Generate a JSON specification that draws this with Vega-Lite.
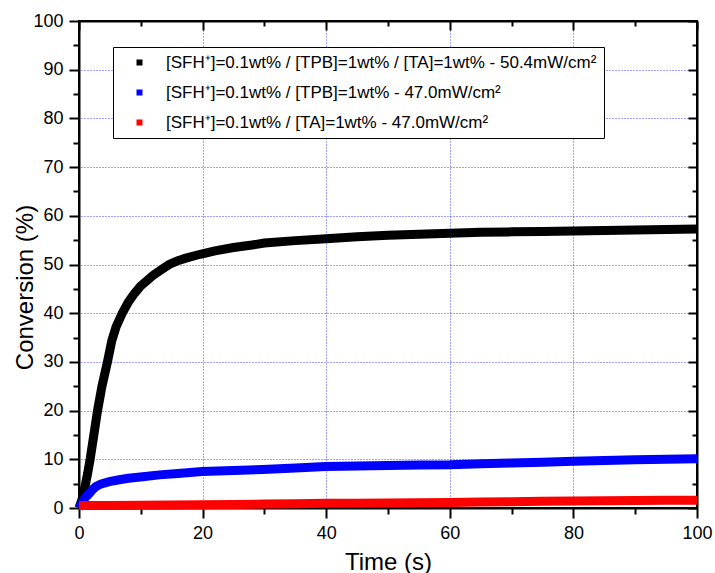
{
  "$schema": "https://vega.github.io/schema/vega-lite/v6.json",
  "autosize": "none",
  "width": 618,
  "height": 487,
  "padding": {"left": 79, "top": 21, "right": 18, "bottom": 65},
  "background": "white",
  "config": {"view": {"stroke": "black", "strokeWidth": 2}},
  "data": {"values": [
      {"label": "[SFH⁺]=0.1wt% / [TPB]=1wt% / [TA]=1wt% - 50.4mW/cm²", "t": 0, "v": 0}, {"label": "[SFH⁺]=0.1wt% / [TPB]=1wt% / [TA]=1wt% - 50.4mW/cm²", "t": 0.5, "v": 1.8}, {"label": "[SFH⁺]=0.1wt% / [TPB]=1wt% / [TA]=1wt% - 50.4mW/cm²", "t": 1.0, "v": 4.6}, {"label": "[SFH⁺]=0.1wt% / [TPB]=1wt% / [TA]=1wt% - 50.4mW/cm²", "t": 1.4, "v": 7.1}, {"label": "[SFH⁺]=0.1wt% / [TPB]=1wt% / [TA]=1wt% - 50.4mW/cm²", "t": 1.8, "v": 10}, {"label": "[SFH⁺]=0.1wt% / [TPB]=1wt% / [TA]=1wt% - 50.4mW/cm²", "t": 2.4, "v": 15}, {"label": "[SFH⁺]=0.1wt% / [TPB]=1wt% / [TA]=1wt% - 50.4mW/cm²", "t": 3.0, "v": 20}, {"label": "[SFH⁺]=0.1wt% / [TPB]=1wt% / [TA]=1wt% - 50.4mW/cm²", "t": 3.7, "v": 24.9}, {"label": "[SFH⁺]=0.1wt% / [TPB]=1wt% / [TA]=1wt% - 50.4mW/cm²", "t": 4.6, "v": 30}, {"label": "[SFH⁺]=0.1wt% / [TPB]=1wt% / [TA]=1wt% - 50.4mW/cm²", "t": 5.3, "v": 34.3}, {"label": "[SFH⁺]=0.1wt% / [TPB]=1wt% / [TA]=1wt% - 50.4mW/cm²", "t": 6.0, "v": 37.2}, {"label": "[SFH⁺]=0.1wt% / [TPB]=1wt% / [TA]=1wt% - 50.4mW/cm²", "t": 7.0, "v": 40}, {"label": "[SFH⁺]=0.1wt% / [TPB]=1wt% / [TA]=1wt% - 50.4mW/cm²", "t": 8.0, "v": 42.3}, {"label": "[SFH⁺]=0.1wt% / [TPB]=1wt% / [TA]=1wt% - 50.4mW/cm²", "t": 9.0, "v": 44.1}, {"label": "[SFH⁺]=0.1wt% / [TPB]=1wt% / [TA]=1wt% - 50.4mW/cm²", "t": 10.0, "v": 45.6}, {"label": "[SFH⁺]=0.1wt% / [TPB]=1wt% / [TA]=1wt% - 50.4mW/cm²", "t": 11.1, "v": 46.8}, {"label": "[SFH⁺]=0.1wt% / [TPB]=1wt% / [TA]=1wt% - 50.4mW/cm²", "t": 12.0, "v": 47.8}, {"label": "[SFH⁺]=0.1wt% / [TPB]=1wt% / [TA]=1wt% - 50.4mW/cm²", "t": 13.3, "v": 48.9}, {"label": "[SFH⁺]=0.1wt% / [TPB]=1wt% / [TA]=1wt% - 50.4mW/cm²", "t": 14.6, "v": 50}, {"label": "[SFH⁺]=0.1wt% / [TPB]=1wt% / [TA]=1wt% - 50.4mW/cm²", "t": 16.0, "v": 50.8}, {"label": "[SFH⁺]=0.1wt% / [TPB]=1wt% / [TA]=1wt% - 50.4mW/cm²", "t": 17.3, "v": 51.3}, {"label": "[SFH⁺]=0.1wt% / [TPB]=1wt% / [TA]=1wt% - 50.4mW/cm²", "t": 19.0, "v": 51.9}, {"label": "[SFH⁺]=0.1wt% / [TPB]=1wt% / [TA]=1wt% - 50.4mW/cm²", "t": 20.3, "v": 52.3}, {"label": "[SFH⁺]=0.1wt% / [TPB]=1wt% / [TA]=1wt% - 50.4mW/cm²", "t": 22, "v": 52.8}, {"label": "[SFH⁺]=0.1wt% / [TPB]=1wt% / [TA]=1wt% - 50.4mW/cm²", "t": 25, "v": 53.5}, {"label": "[SFH⁺]=0.1wt% / [TPB]=1wt% / [TA]=1wt% - 50.4mW/cm²", "t": 28, "v": 54.0}, {"label": "[SFH⁺]=0.1wt% / [TPB]=1wt% / [TA]=1wt% - 50.4mW/cm²", "t": 30, "v": 54.4}, {"label": "[SFH⁺]=0.1wt% / [TPB]=1wt% / [TA]=1wt% - 50.4mW/cm²", "t": 35, "v": 54.9}, {"label": "[SFH⁺]=0.1wt% / [TPB]=1wt% / [TA]=1wt% - 50.4mW/cm²", "t": 40, "v": 55.3}, {"label": "[SFH⁺]=0.1wt% / [TPB]=1wt% / [TA]=1wt% - 50.4mW/cm²", "t": 45, "v": 55.7}, {"label": "[SFH⁺]=0.1wt% / [TPB]=1wt% / [TA]=1wt% - 50.4mW/cm²", "t": 50, "v": 56.0}, {"label": "[SFH⁺]=0.1wt% / [TPB]=1wt% / [TA]=1wt% - 50.4mW/cm²", "t": 55, "v": 56.2}, {"label": "[SFH⁺]=0.1wt% / [TPB]=1wt% / [TA]=1wt% - 50.4mW/cm²", "t": 60, "v": 56.4}, {"label": "[SFH⁺]=0.1wt% / [TPB]=1wt% / [TA]=1wt% - 50.4mW/cm²", "t": 65, "v": 56.6}, {"label": "[SFH⁺]=0.1wt% / [TPB]=1wt% / [TA]=1wt% - 50.4mW/cm²", "t": 70, "v": 56.7}, {"label": "[SFH⁺]=0.1wt% / [TPB]=1wt% / [TA]=1wt% - 50.4mW/cm²", "t": 75, "v": 56.8}, {"label": "[SFH⁺]=0.1wt% / [TPB]=1wt% / [TA]=1wt% - 50.4mW/cm²", "t": 80, "v": 56.9}, {"label": "[SFH⁺]=0.1wt% / [TPB]=1wt% / [TA]=1wt% - 50.4mW/cm²", "t": 85, "v": 57.0}, {"label": "[SFH⁺]=0.1wt% / [TPB]=1wt% / [TA]=1wt% - 50.4mW/cm²", "t": 90, "v": 57.1}, {"label": "[SFH⁺]=0.1wt% / [TPB]=1wt% / [TA]=1wt% - 50.4mW/cm²", "t": 95, "v": 57.2}, {"label": "[SFH⁺]=0.1wt% / [TPB]=1wt% / [TA]=1wt% - 50.4mW/cm²", "t": 100, "v": 57.3},
      {"label": "[SFH⁺]=0.1wt% / [TPB]=1wt% - 47.0mW/cm²", "t": 0, "v": 0}, {"label": "[SFH⁺]=0.1wt% / [TPB]=1wt% - 47.0mW/cm²", "t": 0.3, "v": 0.6}, {"label": "[SFH⁺]=0.1wt% / [TPB]=1wt% - 47.0mW/cm²", "t": 0.6, "v": 1.3}, {"label": "[SFH⁺]=0.1wt% / [TPB]=1wt% - 47.0mW/cm²", "t": 1.0, "v": 2.1}, {"label": "[SFH⁺]=0.1wt% / [TPB]=1wt% - 47.0mW/cm²", "t": 1.67, "v": 3.0}, {"label": "[SFH⁺]=0.1wt% / [TPB]=1wt% - 47.0mW/cm²", "t": 2.2, "v": 3.8}, {"label": "[SFH⁺]=0.1wt% / [TPB]=1wt% - 47.0mW/cm²", "t": 2.75, "v": 4.4}, {"label": "[SFH⁺]=0.1wt% / [TPB]=1wt% - 47.0mW/cm²", "t": 3.5, "v": 4.9}, {"label": "[SFH⁺]=0.1wt% / [TPB]=1wt% - 47.0mW/cm²", "t": 4.9, "v": 5.4}, {"label": "[SFH⁺]=0.1wt% / [TPB]=1wt% - 47.0mW/cm²", "t": 6.5, "v": 5.8}, {"label": "[SFH⁺]=0.1wt% / [TPB]=1wt% - 47.0mW/cm²", "t": 8, "v": 6.1}, {"label": "[SFH⁺]=0.1wt% / [TPB]=1wt% - 47.0mW/cm²", "t": 10.3, "v": 6.4}, {"label": "[SFH⁺]=0.1wt% / [TPB]=1wt% - 47.0mW/cm²", "t": 13, "v": 6.8}, {"label": "[SFH⁺]=0.1wt% / [TPB]=1wt% - 47.0mW/cm²", "t": 16, "v": 7.1}, {"label": "[SFH⁺]=0.1wt% / [TPB]=1wt% - 47.0mW/cm²", "t": 19.9, "v": 7.5}, {"label": "[SFH⁺]=0.1wt% / [TPB]=1wt% - 47.0mW/cm²", "t": 25, "v": 7.7}, {"label": "[SFH⁺]=0.1wt% / [TPB]=1wt% - 47.0mW/cm²", "t": 29.7, "v": 7.9}, {"label": "[SFH⁺]=0.1wt% / [TPB]=1wt% - 47.0mW/cm²", "t": 35, "v": 8.2}, {"label": "[SFH⁺]=0.1wt% / [TPB]=1wt% - 47.0mW/cm²", "t": 39.9, "v": 8.5}, {"label": "[SFH⁺]=0.1wt% / [TPB]=1wt% - 47.0mW/cm²", "t": 45, "v": 8.6}, {"label": "[SFH⁺]=0.1wt% / [TPB]=1wt% - 47.0mW/cm²", "t": 50, "v": 8.75}, {"label": "[SFH⁺]=0.1wt% / [TPB]=1wt% - 47.0mW/cm²", "t": 55, "v": 8.85}, {"label": "[SFH⁺]=0.1wt% / [TPB]=1wt% - 47.0mW/cm²", "t": 60, "v": 8.9}, {"label": "[SFH⁺]=0.1wt% / [TPB]=1wt% - 47.0mW/cm²", "t": 65, "v": 9.1}, {"label": "[SFH⁺]=0.1wt% / [TPB]=1wt% - 47.0mW/cm²", "t": 70, "v": 9.25}, {"label": "[SFH⁺]=0.1wt% / [TPB]=1wt% - 47.0mW/cm²", "t": 75, "v": 9.4}, {"label": "[SFH⁺]=0.1wt% / [TPB]=1wt% - 47.0mW/cm²", "t": 80, "v": 9.6}, {"label": "[SFH⁺]=0.1wt% / [TPB]=1wt% - 47.0mW/cm²", "t": 85, "v": 9.75}, {"label": "[SFH⁺]=0.1wt% / [TPB]=1wt% - 47.0mW/cm²", "t": 90, "v": 9.9}, {"label": "[SFH⁺]=0.1wt% / [TPB]=1wt% - 47.0mW/cm²", "t": 95, "v": 10.0}, {"label": "[SFH⁺]=0.1wt% / [TPB]=1wt% - 47.0mW/cm²", "t": 100, "v": 10.1},
      {"label": "[SFH⁺]=0.1wt% / [TA]=1wt% - 47.0mW/cm²", "t": 0, "v": 0.5}, {"label": "[SFH⁺]=0.1wt% / [TA]=1wt% - 47.0mW/cm²", "t": 5, "v": 0.5}, {"label": "[SFH⁺]=0.1wt% / [TA]=1wt% - 47.0mW/cm²", "t": 10, "v": 0.55}, {"label": "[SFH⁺]=0.1wt% / [TA]=1wt% - 47.0mW/cm²", "t": 15, "v": 0.6}, {"label": "[SFH⁺]=0.1wt% / [TA]=1wt% - 47.0mW/cm²", "t": 20, "v": 0.65}, {"label": "[SFH⁺]=0.1wt% / [TA]=1wt% - 47.0mW/cm²", "t": 25, "v": 0.7}, {"label": "[SFH⁺]=0.1wt% / [TA]=1wt% - 47.0mW/cm²", "t": 30, "v": 0.8}, {"label": "[SFH⁺]=0.1wt% / [TA]=1wt% - 47.0mW/cm²", "t": 35, "v": 0.85}, {"label": "[SFH⁺]=0.1wt% / [TA]=1wt% - 47.0mW/cm²", "t": 40, "v": 0.95}, {"label": "[SFH⁺]=0.1wt% / [TA]=1wt% - 47.0mW/cm²", "t": 45, "v": 1.0}, {"label": "[SFH⁺]=0.1wt% / [TA]=1wt% - 47.0mW/cm²", "t": 50, "v": 1.05}, {"label": "[SFH⁺]=0.1wt% / [TA]=1wt% - 47.0mW/cm²", "t": 55, "v": 1.1}, {"label": "[SFH⁺]=0.1wt% / [TA]=1wt% - 47.0mW/cm²", "t": 60, "v": 1.15}, {"label": "[SFH⁺]=0.1wt% / [TA]=1wt% - 47.0mW/cm²", "t": 65, "v": 1.25}, {"label": "[SFH⁺]=0.1wt% / [TA]=1wt% - 47.0mW/cm²", "t": 70, "v": 1.3}, {"label": "[SFH⁺]=0.1wt% / [TA]=1wt% - 47.0mW/cm²", "t": 75, "v": 1.4}, {"label": "[SFH⁺]=0.1wt% / [TA]=1wt% - 47.0mW/cm²", "t": 80, "v": 1.45}, {"label": "[SFH⁺]=0.1wt% / [TA]=1wt% - 47.0mW/cm²", "t": 85, "v": 1.5}, {"label": "[SFH⁺]=0.1wt% / [TA]=1wt% - 47.0mW/cm²", "t": 90, "v": 1.55}, {"label": "[SFH⁺]=0.1wt% / [TA]=1wt% - 47.0mW/cm²", "t": 95, "v": 1.6}, {"label": "[SFH⁺]=0.1wt% / [TA]=1wt% - 47.0mW/cm²", "t": 100, "v": 1.6}
  ]},
  "layer": [
    {
      "mark": {"type": "point", "opacity": 0},
      "encoding": {
        "x": {"field": "t", "type": "quantitative", "scale": {"domain": [0, 100]},
          "axis": {"orient": "top", "tickCount": 5, "labels": false, "ticks": false, "domain": false, "title": null,
            "grid": true, "gridColor": "#0000ff", "gridDash": [1, 2], "gridOpacity": 0.75}},
        "y": {"field": "v", "type": "quantitative", "scale": {"domain": [0, 100]},
          "axis": {"orient": "right", "tickCount": 10, "labels": false, "ticks": false, "domain": false, "title": null,
            "grid": true, "gridColor": "#0000ff", "gridDash": [1, 2], "gridOpacity": 0.75}}
      }
    },
    {
      "mark": {"type": "line", "strokeWidth": 9},
      "encoding": {
        "x": {"field": "t", "type": "quantitative", "scale": {"domain": [0, 100]},
          "axis": {"tickCount": 10, "grid": false, "labelFlush": false,
            "labelExpr": "datum.value % 20 === 0 ? datum.label : ''",
            "title": "Time (s)", "titleFont": "Liberation Sans", "titleFontWeight": "normal", "titleColor": "black", "titleFontSize": 24, "titleY": 61, "titleBaseline": "alphabetic",
            "labelFont": "Liberation Sans", "labelColor": "black", "labelFontSize": 18, "labelPadding": 6,
            "tickColor": "black", "tickSize": {"condition": {"test": "datum.value % 20 === 0", "value": 10}, "value": 6}, "tickWidth": 2,
            "domainColor": "black", "domainWidth": 2}},
        "y": {"field": "v", "type": "quantitative", "scale": {"domain": [0, 100]},
          "axis": {"tickCount": 20, "grid": false, "labelFlush": false,
            "labelExpr": "datum.value % 10 === 0 ? datum.label : ''",
            "title": "Conversion (%)", "titleFont": "Liberation Sans", "titleFontWeight": "normal", "titleColor": "black", "titleFontSize": 24, "titleX": -47, "titleY": 266, "titleAngle": -90, "titleAlign": "center", "titleBaseline": "alphabetic",
            "labelFont": "Liberation Sans", "labelColor": "black", "labelFontSize": 18, "labelPadding": 6,
            "tickColor": "black", "tickSize": {"condition": {"test": "datum.value % 10 === 0", "value": 10}, "value": 6}, "tickWidth": 2,
            "domainColor": "black", "domainWidth": 2}},
        "color": {"field": "label", "type": "nominal", "sort": null,
          "scale": {"domain": ["[SFH⁺]=0.1wt% / [TPB]=1wt% / [TA]=1wt% - 50.4mW/cm²", "[SFH⁺]=0.1wt% / [TPB]=1wt% - 47.0mW/cm²", "[SFH⁺]=0.1wt% / [TA]=1wt% - 47.0mW/cm²"], "range": ["#000000", "#0000ff", "#ff0000"]},
          "legend": {"orient": "none", "legendX": 34, "legendY": 26, "title": null, "strokeColor": "#000000", "fillColor": "white", "padding": 7, "rowPadding": 12,
            "labelFont": "Liberation Sans", "labelFontSize": 17, "labelColor": "black", "labelLimit": 0, "labelOffset": 18,
            "symbolType": "square", "symbolSize": 36, "symbolOffset": 11, "symbolStrokeWidth": 0,
            "encode": {"symbols": {"update": {"fill": {"scale": "color", "field": "value"}, "fillOpacity": {"value": 1}, "strokeWidth": {"value": 0}}}}}
        }
      }
    },
    {
      "mark": {"type": "point", "opacity": 0},
      "encoding": {
        "x": {"field": "t", "type": "quantitative",
          "axis": {"orient": "top", "tickCount": 10, "labels": false, "title": null, "grid": false,
            "domainColor": "black", "domainWidth": 2, "tickColor": "black",
            "tickSize": {"condition": {"test": "datum.value % 20 === 0", "value": -9}, "value": -5}, "tickWidth": 2}},
        "y": {"field": "v", "type": "quantitative",
          "axis": {"orient": "right", "tickCount": 20, "labels": false, "title": null, "grid": false,
            "domainColor": "black", "domainWidth": 2, "tickColor": "black",
            "tickSize": {"condition": {"test": "datum.value % 10 === 0", "value": -9}, "value": -5}, "tickWidth": 2}}
      }
    }
  ],
  "resolve": {"axis": {"x": "independent", "y": "independent"}}
}
